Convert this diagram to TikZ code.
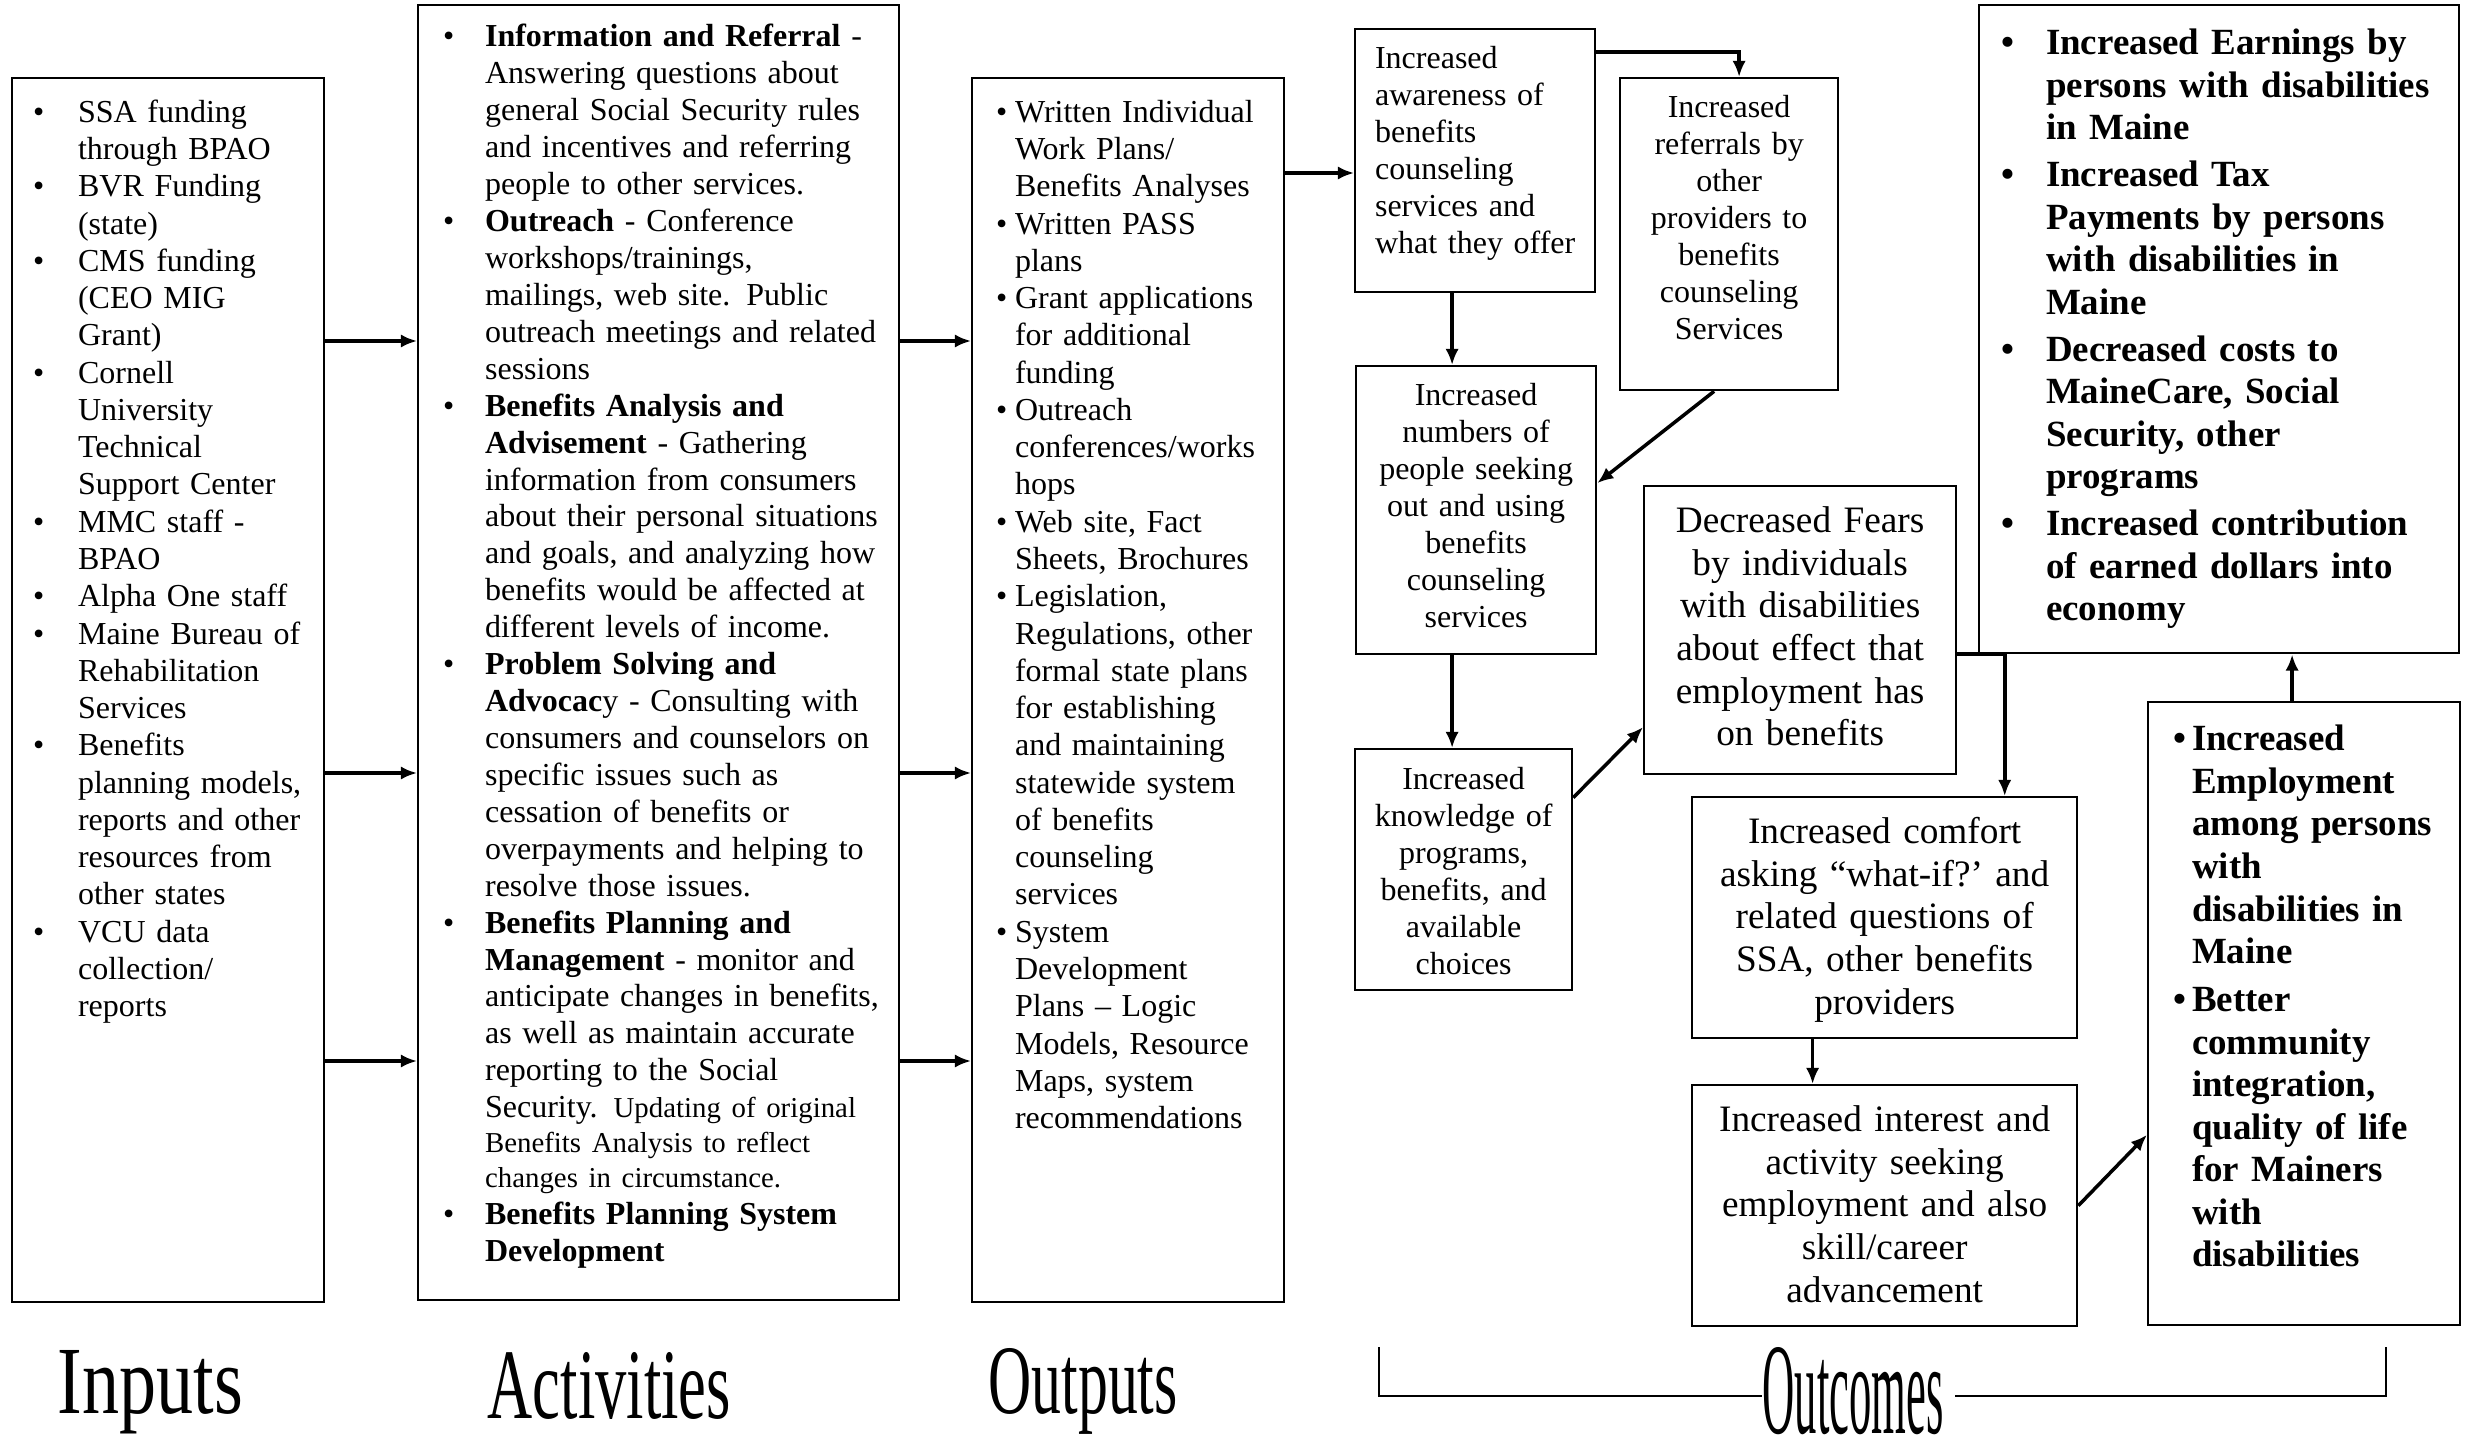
\documentclass[tikz,border=0pt]{standalone}
\usepackage{fontspec}
\setmainfont{Liberation Serif}
\usepackage{graphicx}
\usetikzlibrary{arrows.meta}
\tikzstyle{logicBox} = [draw, line width=0.6pt, inner sep=0pt, anchor=north west]
\tikzstyle{plainBox} = [logicBox, font=\bodyFont]
\tikzstyle{listBox} = [logicBox, font=\listFont]
\tikzstyle{largeBox} = [logicBox, font=\largeFont]
\tikzstyle{boldBox} = [logicBox, font=\heavyFont]
\tikzstyle{flowArrow} = [line width=1pt, -{Latex[length=4.6pt,width=3.8pt]}]
\tikzstyle{titleLabel} = [inner sep=0pt, anchor=base west]
\tikzstyle{bracketLine} = [line width=0.6pt]
\newlength{\bulletGap}
\newcommand{\bodyFont}{\fontsize{9.1}{10.5}\selectfont}
\newcommand{\listFont}{\fontsize{9.1}{10.6}\selectfont}
\newcommand{\largeFont}{\fontsize{10.6}{12.1}\selectfont}
\newcommand{\heavyFont}{\fontsize{10.5}{12.1}\selectfont\bfseries}
\newcommand{\bul}{\makebox[\bulletGap][l]{\textbullet}}
% box body: height, top gap, left gap, lines
\newcommand{\leftBody}[4]{\vbox to #1{\vskip #2\relax\hbox to \hsize{\hskip #3\relax #4\hfil}\vfill}}
% box body: height, top gap, lines
\newcommand{\centerBody}[3]{\vbox to #1{\vskip #2\relax\hbox to \hsize{\hfil #3\hfil}\vfill}}
\newcommand{\bulletLines}[2]{\setlength{\bulletGap}{#1}\begin{tabular}[t]{@{}l@{}l@{}}#2\end{tabular}}
\newcommand{\centerLines}[1]{\begin{tabular}[t]{@{}c@{}}#1\end{tabular}}

\begin{document}
\begin{tikzpicture}[x=0.01cm, y=-0.01cm]
  \useasboundingbox (0,0) rectangle (2465,1442);

  % inputs, activities, outputs
  \node[listBox, text width=3.12cm] (inputs) at (11,77) {\leftBody{12.23cm}{0.18cm}{0.21cm}{\bulletLines{0.45cm}{
    \bul & SSA funding\\ & through BPAO\\
    \bul & BVR Funding\\ & (state)\\
    \bul & CMS funding\\ & (CEO MIG\\ & Grant)\\
    \bul & Cornell\\ & University\\ & Technical\\ & Support Center\\
    \bul & MMC staff -\\ & BPAO\\
    \bul & Alpha One staff\\
    \bul & Maine Bureau of\\ & Rehabilitation\\ & Services\\
    \bul & Benefits\\ & planning models,\\ & reports and other\\ & resources from\\ & other states\\
    \bul & VCU data\\ & collection/\\ & reports}}};
  \node[plainBox, text width=4.81cm] (activities) at (417,4) {\leftBody{12.94cm}{0.16cm}{0.25cm}{\bulletLines{0.42cm}{
    \bul & \textbf{Information and Referral} -\\
      & Answering questions about\\ & general Social Security rules\\
      & and incentives and referring\\ & people to other services.\\
    \bul & \textbf{Outreach} - Conference\\ & workshops/trainings,\\
      & mailings, web site. Public\\ & outreach meetings and related\\ & sessions\\
    \bul & \textbf{Benefits Analysis and}\\ & \textbf{Advisement} - Gathering\\
      & information from consumers\\ & about their personal situations\\
      & and goals, and analyzing how\\ & benefits would be affected at\\
      & different levels of income.\\
    \bul & \textbf{Problem Solving and}\\ & \textbf{Advocac}y - Consulting with\\
      & consumers and counselors on\\ & specific issues such as\\
      & cessation of benefits or\\ & overpayments and helping to\\
      & resolve those issues.\\
    \bul & \textbf{Benefits Planning and}\\ & \textbf{Management} - monitor and\\
      & anticipate changes in benefits,\\ & as well as maintain accurate\\
      & reporting to the Social\\
      & Security. {\fontsize{8.2}{9.8}\selectfont Updating of original}\\[-0.6pt]
      & {\fontsize{8.2}{9.8}\selectfont Benefits Analysis to reflect}\\[-0.6pt]
      & {\fontsize{8.2}{9.8}\selectfont changes in circumstance.}\\
    \bul & \textbf{Benefits Planning System}\\ & \textbf{Development}}}};
  \node[listBox, text width=3.12cm] (outputs) at (971,77) {\leftBody{12.23cm}{0.18cm}{0.24cm}{\bulletLines{0.19cm}{
    \bul & Written Individual\\ & Work Plans/\\ & Benefits Analyses\\
    \bul & Written PASS\\ & plans\\
    \bul & Grant applications\\ & for additional\\ & funding\\
    \bul & Outreach\\ & conferences/works\\ & hops\\
    \bul & Web site, Fact\\ & Sheets, Brochures\\
    \bul & Legislation,\\ & Regulations, other\\ & formal state plans\\ & for establishing\\
      & and maintaining\\ & statewide system\\ & of benefits\\ & counseling\\ & services\\
    \bul & System\\ & Development\\ & Plans -- Logic\\ & Models, Resource\\ & Maps, system\\ & recommendations}}};

  % outcomes
  \node[plainBox, text width=2.40cm] (awareness) at (1354,28) {\leftBody{2.63cm}{0.14cm}{0.20cm}{\begin{tabular}[t]{@{}l@{}}
    Increased\\ awareness of\\ benefits\\ counseling\\ services and\\ what they offer\end{tabular}}};
  \node[plainBox, text width=2.18cm] (referrals) at (1619,77) {\centerBody{3.12cm}{0.14cm}{\centerLines{
    Increased\\ referrals by\\ other\\ providers to\\ benefits\\ counseling\\ Services}}};
  \node[plainBox, text width=2.40cm] (seeking) at (1355,365) {\centerBody{2.88cm}{0.14cm}{\centerLines{
    Increased\\ numbers of\\ people seeking\\ out and using\\ benefits\\ counseling\\ services}}};
  \node[plainBox, text width=2.17cm] (knowledge) at (1354,748) {\centerBody{2.41cm}{0.15cm}{\centerLines{
    Increased\\ knowledge of\\ programs,\\ benefits, and\\ available\\ choices}}};
  \node[largeBox, text width=3.12cm] (fears) at (1643,485) {\centerBody{2.88cm}{0.17cm}{\centerLines{
    Decreased Fears\\ by individuals\\ with disabilities\\ about effect that\\ employment has\\ on benefits}}};
  \node[largeBox, text width=3.85cm] (comfort) at (1691,796) {\centerBody{2.41cm}{0.17cm}{\centerLines{
    Increased comfort\\ asking “what-if?’\ and\\ related questions of\\ SSA, other benefits\\ providers}}};
  \node[largeBox, text width=3.85cm] (interest) at (1691,1084) {\centerBody{2.41cm}{0.17cm}{\centerLines{
    Increased interest and\\ activity seeking\\ employment and also\\ skill/career\\ advancement}}};
  \node[boldBox, text width=4.80cm] (longterm) at (1978,4) {\leftBody{6.48cm}{0.20cm}{0.22cm}{\bulletLines{0.45cm}{
    \bul & Increased Earnings by\\ & persons with disabilities\\ & in Maine\\[1.2pt]
    \bul & Increased Tax\\ & Payments by persons\\ & with disabilities in\\ & Maine\\[1.2pt]
    \bul & Decreased costs to\\ & MaineCare, Social\\ & Security, other\\ & programs\\[1.2pt]
    \bul & Increased contribution\\ & of earned dollars into\\ & economy}}};
  \node[boldBox, text width=3.12cm] (employment) at (2147,701) {\leftBody{6.23cm}{0.19cm}{0.25cm}{\bulletLines{0.19cm}{
    \bul & Increased\\ & Employment\\ & among persons\\ & with\\ & disabilities in\\ & Maine\\[1.5pt]
    \bul & Better\\ & community\\ & integration,\\ & quality of life\\ & for Mainers\\ & with\\ & disabilities}}};

  % arrows
  \foreach \level in {341,773,1061} {
    \draw[flowArrow] (inputs.east |- 0,\level) -- (activities.west |- 0,\level);
    \draw[flowArrow] (activities.east |- 0,\level) -- (outputs.west |- 0,\level);
  }
  \draw[flowArrow] (outputs.east |- 0,173) -- (awareness.west |- 0,173);
  \draw[flowArrow] (awareness.east |- 0,52) -| ([xshift=0.1cm]referrals.north);
  \draw[flowArrow] ([xshift=-0.23cm]awareness.south) -- ([xshift=-0.23cm]awareness.south |- seeking.north);
  \draw[flowArrow] ([xshift=-0.15cm]referrals.south) -- ([yshift=0.27cm]seeking.east);
  \draw[flowArrow] ([xshift=-0.24cm]seeking.south) -- ([xshift=-0.24cm]seeking.south |- knowledge.north);
  \draw[flowArrow] ([yshift=0.72cm]knowledge.east) -- ([yshift=-0.97cm]fears.west);
  \draw[flowArrow] ([yshift=-0.24cm]fears.east) -| ([xshift=1.2cm]comfort.north);
  \draw[flowArrow] ([xshift=-0.72cm]comfort.south) -- ([xshift=-0.72cm]interest.north);
  \draw[flowArrow] (interest.east) -- ([yshift=-1.21cm]employment.west);
  \draw[flowArrow] ([xshift=-0.12cm]employment.north) -- ([xshift=-0.12cm]employment.north |- longterm.south);

  % column titles
  \node[titleLabel] (inputsLabel) at (57,1413) {\resizebox{1.85cm}{0.63cm}{Inputs}};
  \node[titleLabel] (activitiesLabel) at (487,1418) {\resizebox{2.43cm}{0.66cm}{Activities}};
  \node[titleLabel] (outputsLabel) at (988,1413) {\resizebox{1.89cm}{0.65cm}{Outputs}};
  \node[titleLabel] (outcomesLabel) at (1762,1433) {\resizebox{1.81cm}{0.86cm}{Outcomes}};
  \coordinate (bracketLeft) at (1379,1347);
  \coordinate (bracketRight) at (2386,1347);
  \draw[bracketLine] (bracketLeft) |- (outcomesLabel.west |- 0,1396);
  \draw[bracketLine] (bracketRight) |- ([xshift=0.1cm]outcomesLabel.east |- 0,1396);
\end{tikzpicture}
\end{document}
